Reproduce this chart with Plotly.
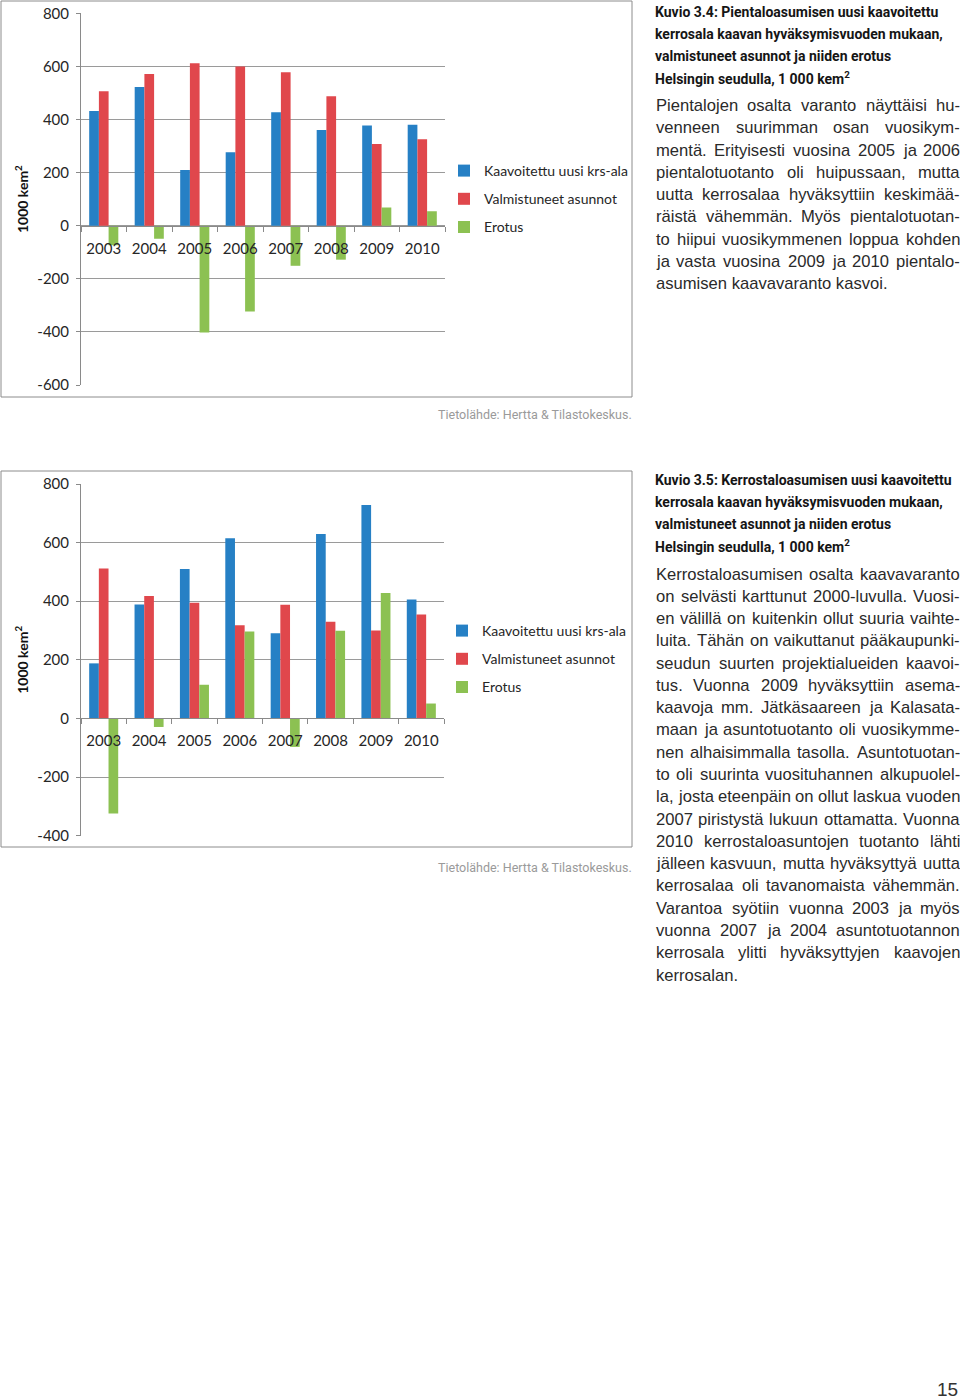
import plotly.graph_objects as go

W_PX, H_PX = 960, 1399

years = ["2003", "2004", "2005", "2006", "2007", "2008", "2009", "2010"]
series_names = ["Kaavoitettu uusi krs-ala", "Valmistuneet asunnot", "Erotus"]

# Kuvio 3.4 – pientalot
pt_kaavoitettu = [432, 522, 210, 277, 427, 360, 377, 380]
pt_valmistuneet = [506, 571, 612, 600, 578, 488, 308, 326]
pt_erotus = [-74, -49, -402, -323, -151, -128, 69, 54]

# Kuvio 3.5 – kerrostalot
kt_kaavoitettu = [188, 389, 510, 615, 291, 629, 728, 406]
kt_valmistuneet = [512, 418, 395, 318, 388, 330, 300, 355]
kt_erotus = [-324, -29, 115, 297, -97, 299, 428, 51]

y1_ticks = [-600, -400, -200, 0, 200, 400, 600, 800]
y1_ticklabels = ["-600", "-400", "-200", "0", "200", "400", "600", "800"]
y2_ticks = [-400, -200, 0, 200, 400, 600, 800]
y2_ticklabels = ["-400", "-200", "0", "200", "400", "600", "800"]

colors = ["#2680C5", "#E0474C", "#8CC152"]

title1 = ["Kuvio 3.4: Pientaloasumisen uusi kaavoitettu",
          "kerrosala kaavan hyväksymisvuoden mukaan,",
          "valmistuneet asunnot ja niiden erotus",
          "Helsingin seudulla, 1 000 kem<sup>2</sup>"]
body1 = ["Pientalojen osalta varanto näyttäisi hu-",
         "venneen suurimman osan vuosikym-",
         "mentä. Erityisesti vuosina 2005 ja 2006",
         "pientalotuotanto oli huipussaan, mutta",
         "uutta kerrosalaa hyväksyttiin keskimää-",
         "räistä vähemmän. Myös pientalotuotan-",
         "to hiipui vuosikymmenen loppua kohden",
         "ja vasta vuosina 2009 ja 2010 pientalo-",
         "asumisen kaavavaranto kasvoi."]
title2 = ["Kuvio 3.5: Kerrostaloasumisen uusi kaavoitettu",
          "kerrosala kaavan hyväksymisvuoden mukaan,",
          "valmistuneet asunnot ja niiden erotus",
          "Helsingin seudulla, 1 000 kem<sup>2</sup>"]
body2 = ["Kerrostaloasumisen osalta kaavavaranto",
         "on selvästi karttunut 2000-luvulla. Vuosi-",
         "en välillä on kuitenkin ollut suuria vaihte-",
         "luita. Tähän on vaikuttanut pääkaupunki-",
         "seudun suurten projektialueiden kaavoi-",
         "tus. Vuonna 2009 hyväksyttiin asema-",
         "kaavoja mm. Jätkäsaareen ja Kalasata-",
         "maan ja asuntotuotanto oli vuosikymme-",
         "nen alhaisimmalla tasolla. Asuntotuotan-",
         "to oli suurinta vuosituhannen alkupuolel-",
         "la, josta eteenpäin on ollut laskua vuoden",
         "2007 piristystä lukuun ottamatta. Vuonna",
         "2010 kerrostaloasuntojen tuotanto lähti",
         "jälleen kasvuun, mutta hyväksyttyä uutta",
         "kerrosalaa oli tavanomaista vähemmän.",
         "Varantoa syötiin vuonna 2003 ja myös",
         "vuonna 2007 ja 2004 asuntotuotannon",
         "kerrosala ylitti hyväksyttyjen kaavojen",
         "kerrosalan."]
source_text = "Tietolähde: Hertta &amp; Tilastokeskus."
page_no = "15"


def px(x):
    return x / W_PX


def py(y):
    return 1 - y / H_PX


CHART_FONT = "Lato, Open Sans, sans-serif"
BODY_FONT = "Liberation Sans, Arial, sans-serif"
COND_FONT = "Roboto, Liberation Sans, sans-serif"

fig = go.Figure()

for i, (vals, name) in enumerate(zip([pt_kaavoitettu, pt_valmistuneet, pt_erotus], series_names)):
    fig.add_trace(go.Bar(x=years, y=vals, name=name, marker=dict(color=colors[i], line=dict(width=0)),
                         xaxis="x", yaxis="y", legend="legend", legendgroup="a%d" % i, hoverinfo="skip"))
for i, (vals, name) in enumerate(zip([kt_kaavoitettu, kt_valmistuneet, kt_erotus], series_names)):
    fig.add_trace(go.Bar(x=years, y=vals, name=name, marker=dict(color=colors[i], line=dict(width=0)),
                         xaxis="x2", yaxis="y2", legend="legend2", legendgroup="b%d" % i, hoverinfo="skip"))

# plot geometry (pixels)
c1 = dict(left=81, right=445, top=13.3, bottom=385, ymin=-600, ymax=800)
c2 = dict(left=81, right=444, top=484, bottom=835.7, ymin=-400, ymax=800)


def zero_pos(c):
    zpx = c["top"] + (c["ymax"] - 0) / (c["ymax"] - c["ymin"]) * (c["bottom"] - c["top"])
    return py(zpx)


axis_col = "#8a8a8a"
tickfont = dict(family=CHART_FONT, size=15, color="#262626")

def xaxis_cfg(c):
    return dict(type="category", domain=[px(c["left"]), px(c["right"])], anchor="free",
                position=zero_pos(c), showline=True, linecolor=axis_col, linewidth=1,
                ticks="outside", tickson="boundaries", ticklen=5, tickcolor=axis_col,
                tickfont=tickfont, showgrid=False, ticklabelstandoff=9, fixedrange=True,
                automargin=False)

def yaxis_cfg(c, ticks, labels, xref):
    return dict(domain=[py(c["bottom"]), py(c["top"])], anchor=xref, range=[c["ymin"], c["ymax"]],
                tickvals=ticks, ticktext=labels, showgrid=True, gridcolor="#9a9a9a", gridwidth=1,
                zeroline=False, showline=True, linecolor=axis_col, ticks="outside", ticklen=4,
                tickcolor=axis_col, tickfont=tickfont, ticklabelstandoff=4, fixedrange=True,
                automargin=False,
                title=dict(text="<b>1000 kem<sup>2</sup></b>", font=dict(family=CHART_FONT, size=14, color="#111"),
                           standoff=5))

legend_common = dict(xanchor="left", yanchor="middle", font=dict(family=CHART_FONT, size=14, color="#262626"),
                     bgcolor="rgba(0,0,0,0)", traceorder="grouped", tracegroupgap=7, itemwidth=30,
                     itemclick=False, itemdoubleclick=False)

fig.update_layout(
    width=W_PX, height=H_PX, margin=dict(l=0, r=0, t=0, b=0, pad=0, autoexpand=False),
    paper_bgcolor="white", plot_bgcolor="white",
    barmode="group", bargap=0.36, bargroupgap=0,
    xaxis=xaxis_cfg(c1), yaxis=yaxis_cfg(c1, y1_ticks, y1_ticklabels, "x"),
    xaxis2=xaxis_cfg(c2), yaxis2=yaxis_cfg(c2, y2_ticks, y2_ticklabels, "x2"),
    legend=dict(x=px(444), y=py(199), **legend_common),
    legend2=dict(x=px(442), y=py(659), **legend_common),
    showlegend=True,
)

shapes = []
for (x0, y0, x1, y1) in [(1, 1, 632, 397), (1, 471, 632, 847)]:
    shapes.append(dict(type="rect", xref="paper", yref="paper", x0=px(x0), x1=px(x1), y0=py(y0), y1=py(y1),
                       line=dict(color="#8c8c8c", width=1), fillcolor="rgba(0,0,0,0)", layer="below"))
fig.update_layout(shapes=shapes)

# Arial / Liberation Sans advance widths (1/1000 em)
AW = {" ": 278, "a": 556, "b": 556, "c": 500, "d": 556, "e": 556, "f": 278, "g": 556, "h": 556, "i": 222,
      "j": 222, "k": 500, "l": 222, "m": 833, "n": 556, "o": 556, "p": 556, "q": 556, "r": 333, "s": 500,
      "t": 278, "u": 556, "v": 500, "w": 722, "x": 500, "y": 500, "z": 500, "ä": 556, "ö": 556,
      ".": 278, ",": 278, "-": 333, "A": 667, "E": 667, "K": 667, "M": 833, "P": 667, "T": 611,
      "V": 667, "J": 500}


def tw(s, fs):
    return sum(AW.get(ch, 556) for ch in s) / 1000 * fs


annotations = []
BODY_FS = 16.6
BODY_COL = "#2a2a2a"
COL_L, COL_R = 655, 959


def add_text(x, y, text, font, anchor="left"):
    annotations.append(dict(x=px(x), y=py(y), xref="paper", yref="paper", text=text, showarrow=False,
                            xanchor=anchor, yanchor="middle", font=font, borderpad=0))


def add_title(lines, y0):
    for k, line in enumerate(lines):
        add_text(COL_L - 1, y0 + k * 22.3, "<b>%s</b>" % line,
                 dict(family=COND_FONT, size=14, color="#151515"))


def add_body(lines, y0):
    for k, line in enumerate(lines):
        y = y0 + k * 22.28
        font = dict(family=BODY_FONT, size=BODY_FS, color=BODY_COL)
        if k == len(lines) - 1:
            add_text(COL_L, y, line, font)
            continue
        words = line.split(" ")
        widths = [tw(w, BODY_FS) for w in words]
        gap = (COL_R - COL_L - sum(widths)) / (len(words) - 1)
        x = COL_L
        for w, wd in zip(words, widths):
            add_text(x, y, w, font)
            x += wd + gap


add_title(title1, 11.5)
add_body(body1, 105.5)
add_title(title2, 479.5)
add_body(body2, 574)

src_font = dict(family=COND_FONT, size=12.5, color="#9a9a9a")
add_text(633, 414, source_text, src_font, anchor="right")
add_text(633, 868, source_text, src_font, anchor="right")
add_text(959, 1389, page_no, dict(family=BODY_FONT, size=19, color="#333"), anchor="right")

fig.update_layout(annotations=annotations)

fig.write_html("out.html", config={"displayModeBar": False},
               post_script="document.body.style.margin='0px';document.body.style.overflow='hidden';")
